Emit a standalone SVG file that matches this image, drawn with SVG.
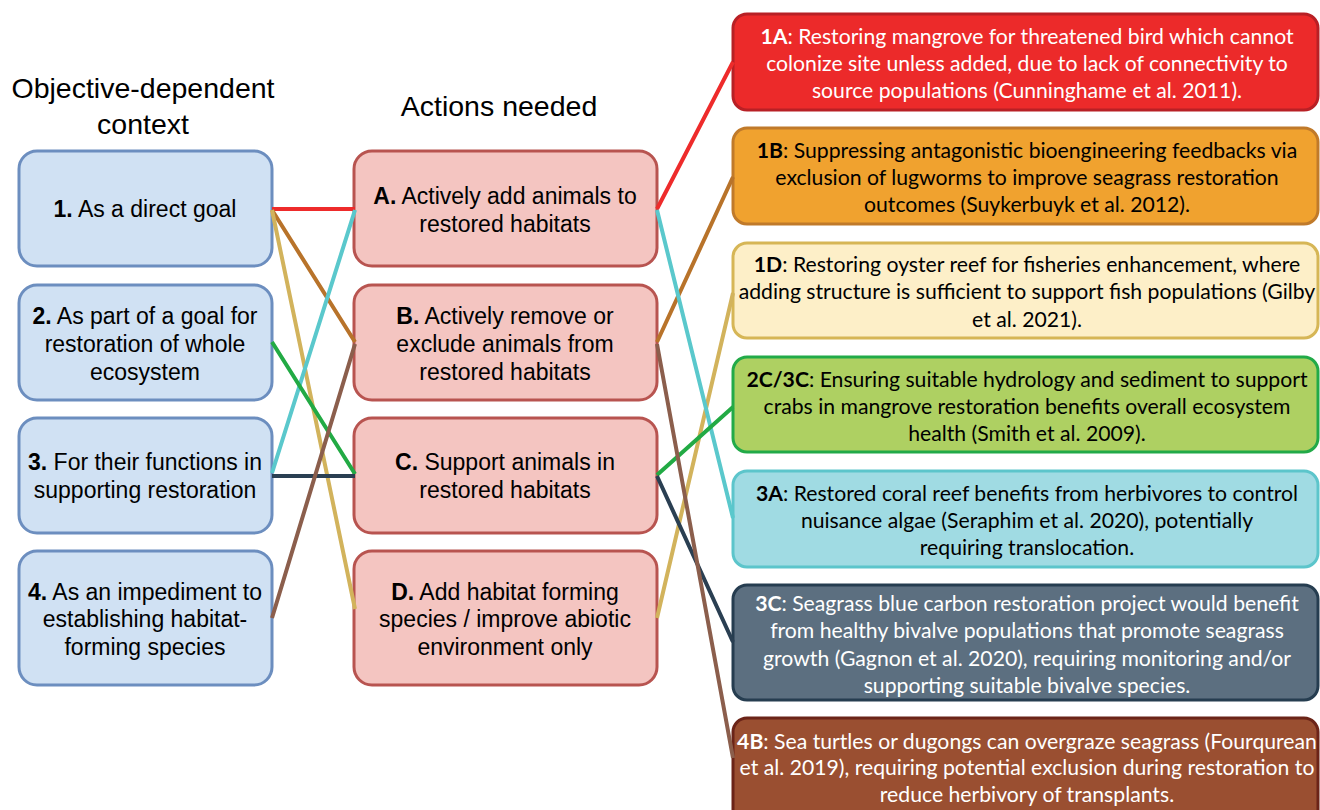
<svg xmlns="http://www.w3.org/2000/svg" width="1320" height="810" viewBox="0 0 1320 810">
<style>
.hd{font-family:"Liberation Sans",Arial,sans-serif;font-size:28.5px;fill:#000;text-anchor:middle}
.lb{font-family:"Liberation Sans",Arial,sans-serif;font-size:23px;fill:#000;text-anchor:middle}
.rt{font-family:Lato,"Liberation Sans",sans-serif;font-size:21.2px;text-anchor:middle}
.b{font-weight:bold}
.ctx{fill:#d0e1f3;stroke:#6c8ebf;stroke-width:3}
.act{fill:#f4c5c1;stroke:#b85450;stroke-width:3}
.ex{stroke-width:3}
.c{fill:none;stroke-width:4;stroke-linecap:butt}
</style>
<rect width="1320" height="810" fill="#fff"/>
<text class="hd" x="143" y="98">Objective-dependent</text>
<text class="hd" x="143" y="134">context</text>
<text class="hd" x="499" y="116">Actions needed</text>

<g id="n1"><rect class="ctx" x="19" y="151" width="253" height="115" rx="18"/>
<text class="lb" x="145" y="217"><tspan class="b">1.</tspan> As a direct goal</text></g>
<g id="n2"><rect class="ctx" x="19" y="285" width="253" height="115" rx="18"/>
<text class="lb" x="145" y="324"><tspan class="b">2.</tspan> As part of a goal for</text>
<text class="lb" x="145" y="352">restoration of whole</text>
<text class="lb" x="145" y="380">ecosystem</text></g>
<g id="n3"><rect class="ctx" x="19" y="418" width="253" height="115" rx="18"/>
<text class="lb" x="145" y="470"><tspan class="b">3.</tspan> For their functions in</text>
<text class="lb" x="145" y="498">supporting restoration</text></g>
<g id="n4"><rect class="ctx" x="19" y="551" width="253" height="134" rx="18"/>
<text class="lb" x="145" y="600"><tspan class="b">4.</tspan> As an impediment to</text>
<text class="lb" x="145" y="627">establishing habitat-</text>
<text class="lb" x="145" y="655">forming species</text></g>

<g id="nA"><rect class="act" x="354" y="151" width="303" height="115" rx="18"/>
<text class="lb" x="505" y="204"><tspan class="b">A.</tspan> Actively add animals to</text>
<text class="lb" x="505" y="232">restored habitats</text></g>
<g id="nB"><rect class="act" x="354" y="285" width="303" height="115" rx="18"/>
<text class="lb" x="505" y="324"><tspan class="b">B.</tspan> Actively remove or</text>
<text class="lb" x="505" y="352">exclude animals from</text>
<text class="lb" x="505" y="380">restored habitats</text></g>
<g id="nC"><rect class="act" x="354" y="418" width="303" height="115" rx="18"/>
<text class="lb" x="505" y="470"><tspan class="b">C.</tspan> Support animals in</text>
<text class="lb" x="505" y="498">restored habitats</text></g>
<g id="nD"><rect class="act" x="354" y="551" width="303" height="134" rx="18"/>
<text class="lb" x="505" y="600"><tspan class="b">D.</tspan> Add habitat forming</text>
<text class="lb" x="505" y="627">species / improve abiotic</text>
<text class="lb" x="505" y="655">environment only</text></g>

<g id="e1A"><rect class="ex" x="733" y="14" width="585" height="96" rx="14" fill="#ec2a2a" stroke="#b82025"/>
<text class="rt" fill="#fff" x="1027" y="44"><tspan class="b">1A</tspan>: Restoring mangrove for threatened bird which cannot</text>
<text class="rt" fill="#fff" x="1027" y="71">colonize site unless added, due to lack of connectivity to</text>
<text class="rt" fill="#fff" x="1027" y="98">source populations (Cunninghame et al. 2011).</text></g>
<g id="e1B"><rect class="ex" x="733" y="128" width="585" height="96" rx="14" fill="#f0a22f" stroke="#c07a2a"/>
<text class="rt" fill="#000" x="1027" y="158"><tspan class="b">1B</tspan>: Suppressing antagonistic bioengineering feedbacks via</text>
<text class="rt" fill="#000" x="1027" y="185">exclusion of lugworms to improve seagrass restoration</text>
<text class="rt" fill="#000" x="1027" y="212">outcomes (Suykerbuyk et al. 2012).</text></g>
<g id="e1D"><rect class="ex" x="733" y="243" width="585" height="95" rx="14" fill="#fdefc8" stroke="#d6b656"/>
<text class="rt" fill="#000" x="1027" y="272"><tspan class="b">1D</tspan>: Restoring oyster reef for fisheries enhancement, where</text>
<text class="rt" fill="#000" x="1027" y="299">adding structure is sufficient to support fish populations (Gilby</text>
<text class="rt" fill="#000" x="1027" y="327">et al. 2021).</text></g>
<g id="e2C3C"><rect class="ex" x="733" y="357" width="585" height="95" rx="14" fill="#aed062" stroke="#22aa48"/>
<text class="rt" fill="#000" x="1027" y="387"><tspan class="b">2C/3C</tspan>: Ensuring suitable hydrology and sediment to support</text>
<text class="rt" fill="#000" x="1027" y="414">crabs in mangrove restoration benefits overall ecosystem</text>
<text class="rt" fill="#000" x="1027" y="441">health (Smith et al. 2009).</text></g>
<g id="e3A"><rect class="ex" x="733" y="471" width="585" height="96" rx="14" fill="#a0dbe3" stroke="#5cc5cb"/>
<text class="rt" fill="#000" x="1027" y="501"><tspan class="b">3A</tspan>: Restored coral reef benefits from herbivores to control</text>
<text class="rt" fill="#000" x="1027" y="528">nuisance algae (Seraphim et al. 2020), potentially</text>
<text class="rt" fill="#000" x="1027" y="555">requiring translocation.</text></g>
<g id="e3C"><rect class="ex" x="733" y="585" width="585" height="115" rx="14" fill="#5c6f80" stroke="#263d50"/>
<text class="rt" fill="#fff" x="1027" y="611"><tspan class="b">3C</tspan>: Seagrass blue carbon restoration project would benefit</text>
<text class="rt" fill="#fff" x="1027" y="638">from healthy bivalve populations that promote seagrass</text>
<text class="rt" fill="#fff" x="1027" y="666">growth (Gagnon et al. 2020), requiring monitoring and/or</text>
<text class="rt" fill="#fff" x="1027" y="693">supporting suitable bivalve species.</text></g>
<g id="e4B"><rect class="ex" x="733" y="718" width="585" height="110" rx="14" fill="#9a4f31" stroke="#6b2418"/>
<text class="rt" fill="#fff" x="1027" y="749"><tspan class="b">4B</tspan>: Sea turtles or dugongs can overgraze seagrass (Fourqurean</text>
<text class="rt" fill="#fff" x="1027" y="775">et al. 2019), requiring potential exclusion during restoration to</text>
<text class="rt" fill="#fff" x="1027" y="802">reduce herbivory of transplants.</text></g>

<g id="connectors">
<path class="c" stroke="#ee2b2b" d="M272 209 L355 209 M657 209 L733 62"/>
<path class="c" stroke="#b8732a" d="M272 210 L355 342 M657 342 L733 177"/>
<path class="c" stroke="#d2b35c" d="M272 210 L355 609 M657 618 L733 293"/>
<path class="c" stroke="#5ac8cc" d="M272 473 L355 210 M657 210 L733 518"/>
<path class="c" stroke="#22aa44" d="M272 342 L355 474 M657 475 L733 407"/>
<path class="c" stroke="#2a3f52" d="M272 476 L355 476 M657 476 L733 642"/>
<path class="c" stroke="#8b5e4c" d="M272 618 L355 344 M657 344 L733 758"/>
</g>
</svg>
